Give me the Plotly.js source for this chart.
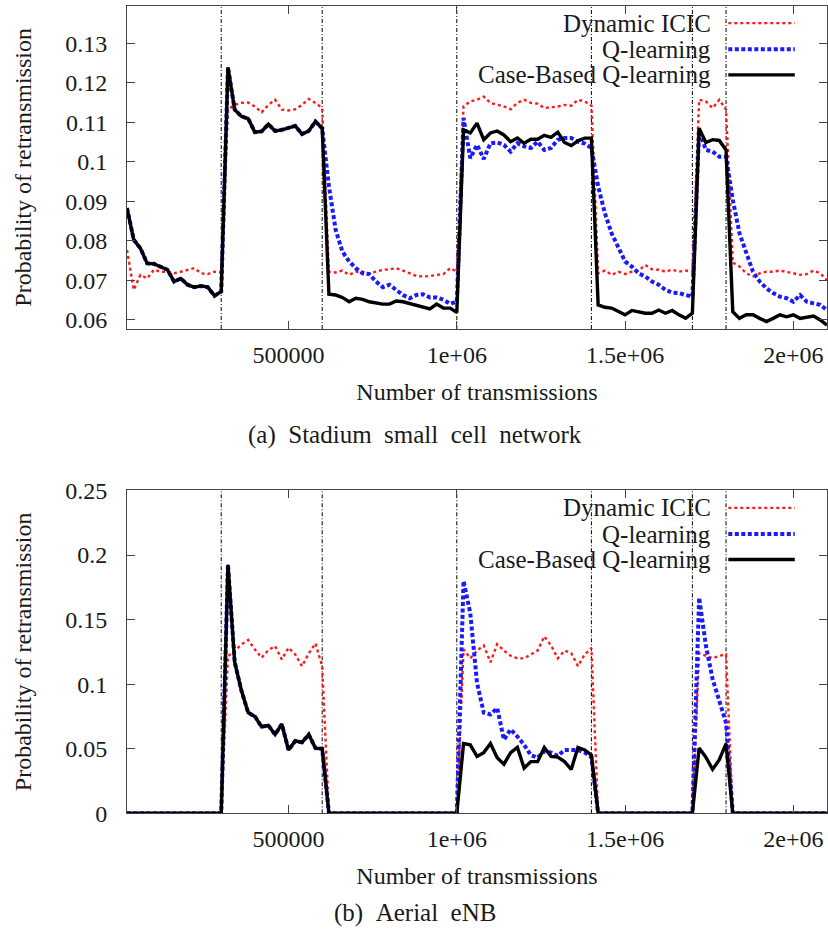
<!DOCTYPE html>
<html>
<head>
<meta charset="utf-8">
<script src="https://cdn.plot.ly/plotly-3.0.1.min.js"></script>
<style>
  html, body { margin: 0; padding: 0; background: #fff; }
  #chart { width: 828px; height: 930px; }
</style>
</head>
<body>
<div id="chart"></div>
<script>
// Number of transmissions at which each averaged sample was taken
const transmissions = [
  20000, 40000, 60000, 80000, 100000, 120000, 140000, 160000, 180000, 200000,
  220000, 240000, 260000, 280000, 300000, 320000, 340000, 360000, 380000, 400000,
  420000, 440000, 460000, 480000, 500000, 520000, 540000, 560000, 580000, 600000,
  620000, 640000, 660000, 680000, 700000, 720000, 740000, 760000, 780000, 800000,
  820000, 840000, 860000, 880000, 900000, 920000, 940000, 960000, 980000, 1000000,
  1020000, 1040000, 1060000, 1080000, 1100000, 1120000, 1140000, 1160000, 1180000, 1200000,
  1220000, 1240000, 1260000, 1280000, 1300000, 1320000, 1340000, 1360000, 1380000, 1400000,
  1420000, 1440000, 1460000, 1480000, 1500000, 1520000, 1540000, 1560000, 1580000, 1600000,
  1620000, 1640000, 1660000, 1680000, 1700000, 1720000, 1740000, 1760000, 1780000, 1800000,
  1820000, 1840000, 1860000, 1880000, 1900000, 1920000, 1940000, 1960000, 1980000, 2000000,
  2020000, 2040000, 2060000, 2080000, 2100000
];

// Instants at which the traffic pattern changes
const phaseChanges = [300000, 600000, 1000000, 1400000, 1700000, 1800000];

const seriesNames = ['Dynamic ICIC', 'Q-learning', 'Case-Based Q-learning'];

// (a) Stadium small cell network
const stadiumDynamicICIC = [
  0.0777, 0.0676, 0.0714, 0.0705, 0.0727, 0.0722, 0.0722, 0.0718, 0.0722, 0.0727,
  0.0731, 0.0718, 0.0716, 0.0722, 0.0720, 0.1132, 0.1144, 0.1149, 0.1150, 0.1140,
  0.1125, 0.1144, 0.1157, 0.1132, 0.1130, 0.1133, 0.1144, 0.1159, 0.1149, 0.1136,
  0.0722, 0.0720, 0.0725, 0.0714, 0.0722, 0.0722, 0.0718, 0.0722, 0.0727, 0.0728,
  0.0731, 0.0725, 0.0718, 0.0711, 0.0710, 0.0711, 0.0714, 0.0716, 0.0731, 0.0722,
  0.1140, 0.1153, 0.1157, 0.1165, 0.1149, 0.1144, 0.1140, 0.1133, 0.1149, 0.1157,
  0.1149, 0.1147, 0.1136, 0.1138, 0.1140, 0.1144, 0.1142, 0.1157, 0.1153, 0.1142,
  0.0718, 0.0725, 0.0714, 0.0722, 0.0716, 0.0722, 0.0725, 0.0739, 0.0728, 0.0727,
  0.0722, 0.0727, 0.0722, 0.0725, 0.0722, 0.1157, 0.1153, 0.1136, 0.1157, 0.1132,
  0.0745, 0.0735, 0.0718, 0.0710, 0.0718, 0.0722, 0.0722, 0.0725, 0.0722, 0.0718,
  0.0714, 0.0716, 0.0725, 0.0718, 0.0701
];
const stadiumQLearning = [
  0.0883, 0.0803, 0.0781, 0.0743, 0.0742, 0.0735, 0.0727, 0.0697, 0.0705, 0.0689,
  0.0683, 0.0686, 0.0683, 0.0661, 0.0672, 0.1239, 0.1132, 0.1115, 0.1109, 0.1075,
  0.1077, 0.1095, 0.1078, 0.1081, 0.1085, 0.1091, 0.1070, 0.1078, 0.1102, 0.1085,
  0.0938, 0.0828, 0.0773, 0.0748, 0.0731, 0.0718, 0.0716, 0.0697, 0.0683, 0.0689,
  0.0676, 0.0663, 0.0655, 0.0663, 0.0665, 0.0657, 0.0657, 0.0651, 0.0641, 0.0646,
  0.1111, 0.1009, 0.1043, 0.1007, 0.1047, 0.1049, 0.1043, 0.1026, 0.1047, 0.1039,
  0.1035, 0.1051, 0.1030, 0.1035, 0.1056, 0.1060, 0.1060, 0.1051, 0.1046, 0.1035,
  0.0938, 0.0870, 0.0819, 0.0781, 0.0748, 0.0735, 0.0718, 0.0710, 0.0697, 0.0689,
  0.0676, 0.0669, 0.0668, 0.0663, 0.0659, 0.1081, 0.1030, 0.1026, 0.1013, 0.1013,
  0.0904, 0.0819, 0.0769, 0.0722, 0.0697, 0.0680, 0.0668, 0.0659, 0.0655, 0.0646,
  0.0663, 0.0646, 0.0642, 0.0638, 0.0625
];
const stadiumCaseBased = [
  0.0883, 0.0803, 0.0781, 0.0743, 0.0742, 0.0735, 0.0727, 0.0697, 0.0705, 0.0689,
  0.0683, 0.0686, 0.0683, 0.0661, 0.0672, 0.1239, 0.1132, 0.1115, 0.1109, 0.1075,
  0.1077, 0.1095, 0.1078, 0.1081, 0.1085, 0.1091, 0.1070, 0.1078, 0.1102, 0.1085,
  0.0665, 0.0663, 0.0657, 0.0646, 0.0655, 0.0652, 0.0646, 0.0642, 0.0640, 0.0640,
  0.0648, 0.0646, 0.0642, 0.0638, 0.0634, 0.0628, 0.0640, 0.0630, 0.0630, 0.0619,
  0.1081, 0.1073, 0.1098, 0.1056, 0.1073, 0.1078, 0.1068, 0.1051, 0.1060, 0.1047,
  0.1057, 0.1057, 0.1067, 0.1062, 0.1075, 0.1049, 0.1041, 0.1053, 0.1060, 0.1060,
  0.0638, 0.0632, 0.0630, 0.0621, 0.0613, 0.0624, 0.0621, 0.0617, 0.0617, 0.0625,
  0.0617, 0.0624, 0.0613, 0.0604, 0.0617, 0.1085, 0.1049, 0.1056, 0.1054, 0.1030,
  0.0621, 0.0604, 0.0613, 0.0613, 0.0604, 0.0596, 0.0604, 0.0613, 0.0608, 0.0613,
  0.0604, 0.0608, 0.0610, 0.0600, 0.0587
];

// (b) Aerial eNB
const aerialDynamicICIC = [
  0, 0, 0, 0, 0, 0, 0, 0, 0, 0,
  0, 0, 0, 0, 0, 0.1217, 0.1256, 0.1308, 0.1342, 0.1269,
  0.1205, 0.1264, 0.1295, 0.1192, 0.1282, 0.1230, 0.1139, 0.1238, 0.1316, 0.1139,
  0, 0, 0, 0, 0, 0, 0, 0, 0, 0,
  0, 0, 0, 0, 0, 0, 0, 0, 0, 0,
  0.127, 0.120, 0.126, 0.130, 0.117, 0.131, 0.126, 0.122, 0.120, 0.120,
  0.123, 0.126, 0.137, 0.130, 0.120, 0.126, 0.124, 0.114, 0.123, 0.128,
  0, 0, 0, 0, 0, 0, 0, 0, 0, 0,
  0, 0, 0, 0, 0, 0.124, 0.122, 0.120, 0.122, 0.123,
  0, 0, 0, 0, 0, 0, 0, 0, 0, 0,
  0, 0, 0, 0, 0
];
const aerialQLearning = [
  0, 0, 0, 0, 0, 0, 0, 0, 0, 0,
  0, 0, 0, 0, 0, 0.1925, 0.117, 0.095, 0.078, 0.075,
  0.067, 0.068, 0.061, 0.069, 0.049, 0.056, 0.055, 0.061, 0.0505, 0.0500,
  0, 0, 0, 0, 0, 0, 0, 0, 0, 0,
  0, 0, 0, 0, 0, 0, 0, 0, 0, 0,
  0.180, 0.155, 0.101, 0.078, 0.0765, 0.0815, 0.057, 0.065, 0.0595, 0.053,
  0.045, 0.043, 0.048, 0.047, 0.0445, 0.049, 0.049, 0.049, 0.047, 0.0435,
  0, 0, 0, 0, 0, 0, 0, 0, 0, 0,
  0, 0, 0, 0, 0, 0.167, 0.130, 0.104, 0.088, 0.070,
  0, 0, 0, 0, 0, 0, 0, 0, 0, 0,
  0, 0, 0, 0, 0
];
const aerialCaseBased = [
  0, 0, 0, 0, 0, 0, 0, 0, 0, 0,
  0, 0, 0, 0, 0, 0.1925, 0.117, 0.095, 0.078, 0.075,
  0.067, 0.068, 0.061, 0.069, 0.049, 0.056, 0.055, 0.061, 0.0505, 0.0500,
  0, 0, 0, 0, 0, 0, 0, 0, 0, 0,
  0, 0, 0, 0, 0, 0, 0, 0, 0, 0,
  0.054, 0.053, 0.044, 0.047, 0.054, 0.043, 0.038, 0.047, 0.051, 0.035,
  0.040, 0.040, 0.051, 0.044, 0.0435, 0.040, 0.034, 0.051, 0.049, 0.045,
  0, 0, 0, 0, 0, 0, 0, 0, 0, 0,
  0, 0, 0, 0, 0, 0.0505, 0.0435, 0.034, 0.0415, 0.054,
  0, 0, 0, 0, 0, 0, 0, 0, 0, 0,
  0, 0, 0, 0, 0
];

// Axis ticks and their printed labels
const xTickVals = [500000, 1000000, 1500000, 2000000];
const xTickText = ['500000', '1e+06', '1.5e+06', '2e+06'];
const stadiumTickVals = [0.06, 0.07, 0.08, 0.09, 0.10, 0.11, 0.12, 0.13];
const stadiumTickText = ['0.06', '0.07', '0.08', '0.09', '0.1', '0.11', '0.12', '0.13'];
const aerialTickVals = [0, 0.05, 0.10, 0.15, 0.20, 0.25];
const aerialTickText = ['0', '0.05', '0.1', '0.15', '0.2', '0.25'];

const captions = ['(a)\u2002Stadium\u2002small\u2002cell\u2002network', '(b)\u2002Aerial\u2002eNB'];

// Line styles, one per algorithm
const lineStyles = [
  { color: '#ff1a1a', width: 2.4, dash: 'dot' },
  { color: '#1a1aff', width: 4, dash: '4px,2.5px' },
  { color: '#000000', width: 3.4, dash: 'solid' }
];

const serif = '"Liberation Serif", "Times New Roman", Times, serif';
const textColor = '#1a1a1a';

const stadiumSeries = [stadiumDynamicICIC, stadiumQLearning, stadiumCaseBased];
const aerialSeries = [aerialDynamicICIC, aerialQLearning, aerialCaseBased];

const traces = [];
[[stadiumSeries, 'x', 'y'], [aerialSeries, 'x2', 'y2']].forEach(([group, xa, ya]) => {
  group.forEach((values, k) => {
    traces.push({
      type: 'scatter',
      mode: 'lines',
      name: seriesNames[k],
      x: transmissions,
      y: values,
      xaxis: xa,
      yaxis: ya,
      line: lineStyles[k],
      showlegend: false,
      hoverinfo: 'skip'
    });
  });
});

function xAxis(anchor) {
  return {
    anchor: anchor,
    domain: [0, 1],
    range: [20000, 2100000],
    tickvals: xTickVals,
    ticktext: xTickText,
    ticks: 'inside',
    ticklen: 8,
    tickwidth: 1,
    tickcolor: '#444',
    ticklabelstandoff: 4,
    showline: true,
    linecolor: '#444',
    linewidth: 1,
    mirror: 'ticks',
    showgrid: false,
    zeroline: false,
    tickfont: { family: serif, size: 24, color: textColor },
    title: { text: 'Number of transmissions', font: { family: serif, size: 24, color: textColor }, standoff: 16 }
  };
}

function yAxis(anchor, domain, range, vals, text) {
  return {
    anchor: anchor,
    domain: domain,
    range: range,
    tickvals: vals,
    ticktext: text,
    ticks: 'inside',
    ticklen: 8,
    tickwidth: 1,
    tickcolor: '#444',
    ticklabelstandoff: 14,
    showline: true,
    linecolor: '#444',
    linewidth: 1,
    mirror: 'ticks',
    showgrid: false,
    zeroline: false,
    tickfont: { family: serif, size: 24, color: textColor },
    title: { text: 'Probability of retransmission', font: { family: serif, size: 24, color: textColor }, standoff: 26 }
  };
}

const shapes = [];
const annotations = [];

// Dash-dot markers at every phase change, on both panels
['x', 'x2'].forEach((xa, p) => {
  const yref = (p === 0 ? 'y' : 'y2') + ' domain';
  phaseChanges.forEach(v => {
    shapes.push({
      type: 'line', xref: xa, yref: yref, x0: v, x1: v, y0: 0, y1: 1,
      line: { color: '#000', width: 1, dash: '4px,2px,1px,2px' }, layer: 'below'
    });
  });
});

// Key in the upper right of each panel: label on the left, line sample on the right
const keyRows = [0.946, 0.865, 0.786];
['y domain', 'y2 domain'].forEach(yref => {
  seriesNames.forEach((name, k) => {
    annotations.push({
      xref: 'paper', yref: yref, x: 0.837, y: keyRows[k],
      xanchor: 'right', yanchor: 'middle', showarrow: false,
      text: name, font: { family: serif, size: 25, color: textColor }
    });
    shapes.push({
      type: 'line', xref: 'paper', yref: yref,
      x0: 0.859, x1: 0.954, y0: keyRows[k], y1: keyRows[k],
      line: lineStyles[k]
    });
  });
});

// Sub-figure captions
annotations.push({
  xref: 'paper', yref: 'paper', x: 0.4114, y: 0.5323, xanchor: 'center', yanchor: 'middle',
  showarrow: false, text: captions[0], font: { family: serif, size: 25, color: textColor }
});
annotations.push({
  xref: 'paper', yref: 'paper', x: 0.4114, y: 0.0183, xanchor: 'center', yanchor: 'middle',
  showarrow: false, text: captions[1], font: { family: serif, size: 25, color: textColor }
});

const layout = {
  width: 828,
  height: 930,
  margin: { l: 127, r: 1, t: 0, b: 0 },
  paper_bgcolor: '#fff',
  plot_bgcolor: '#fff',
  showlegend: false,
  xaxis: xAxis('y'),
  yaxis: yAxis('x', [0.6462, 0.9939], [0.0577, 0.1395], stadiumTickVals, stadiumTickText),
  xaxis2: xAxis('y2'),
  yaxis2: yAxis('x2', [0.1255, 0.4726], [0, 0.25], aerialTickVals, aerialTickText),
  shapes: shapes,
  annotations: annotations
};

Plotly.newPlot('chart', traces, layout, { displayModeBar: false, staticPlot: true });
</script>
</body>
</html>
